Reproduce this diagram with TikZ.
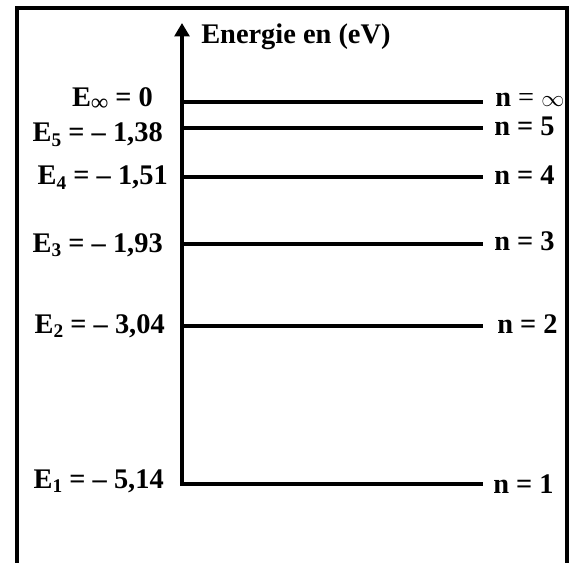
\documentclass[tikz,border=0pt]{standalone}
\usepackage{fontspec}
\setmainfont{Liberation Serif}
\usetikzlibrary{arrows.meta}
\newcommand{\lvlsub}[1]{\raisebox{-.35ex}{\fontsize{14.5}{14.5}\selectfont #1}}
\tikzset{
  lvl/.style={line width=3.4pt},
  lab/.style={inner sep=0pt, font=\bfseries\fontsize{21.3}{25}\selectfont},
}

\begin{document}
\begin{tikzpicture}[x=0.75pt,y=-0.75pt]
\useasboundingbox (0,0) rectangle (574,563);
% frame
\draw[line width=2.4pt] (17,563) -- (17,8) -- (567,8) -- (567,563);
% axis and ground level
\coordinate (o) at (182,484);
\coordinate (top) at (182,23);
\coordinate (e1) at (483,484);
\draw[lvl, {Triangle[width=11pt,length=10pt]}-] (top) -- (o) -- (e1);
\node[lab, anchor=base west] (axis) at (201,44) {Energie en (eV)};
% other levels
\coordinate (a2) at (182,326); \coordinate (e2) at (483,326);
\coordinate (a3) at (182,244); \coordinate (e3) at (483,244);
\coordinate (a4) at (182,177); \coordinate (e4) at (483,177);
\coordinate (a5) at (182,128); \coordinate (e5) at (483,128);
\coordinate (ainf) at (182,102); \coordinate (einf) at (483,102);
\draw[lvl] (a2) -- (e2);
\draw[lvl] (a3) -- (e3);
\draw[lvl] (a4) -- (e4);
\draw[lvl] (a5) -- (e5);
\draw[lvl] (ainf) -- (einf);
% energies
\node[lab, anchor=base east] (Einf) at (153,107) {E\raisebox{-.3ex}{\fontsize{18}{18}\selectfont ∞} = 0};
\node[lab, anchor=base east] (E5) at (163,142) {E\lvlsub{5} = – 1,38};
\node[lab, anchor=base east] (E4) at (168,185) {E\lvlsub{4} = – 1,51};
\node[lab, anchor=base east] (E3) at (163,252) {E\lvlsub{3} = – 1,93};
\node[lab, anchor=base east] (E2) at (165,333) {E\lvlsub{2} = – 3,04};
\node[lab, anchor=base east] (E1) at (164,488) {E\lvlsub{1} = – 5,14};
% quantum numbers
\node[lab, anchor=base west] (ninf) at (495,107) {n {\mdseries =} {\fontsize{17}{17}\selectfont$\infty$}};
\node[lab, anchor=base west] (n5) at (494,136) {n = 5};
\node[lab, anchor=base west] (n4) at (494,185) {n = 4};
\node[lab, anchor=base west] (n3) at (494,250) {n = 3};
\node[lab, anchor=base west] (n2) at (497,333) {n = 2};
\node[lab, anchor=base west] (n1) at (493,493) {n = 1};
\end{tikzpicture}
\end{document}
